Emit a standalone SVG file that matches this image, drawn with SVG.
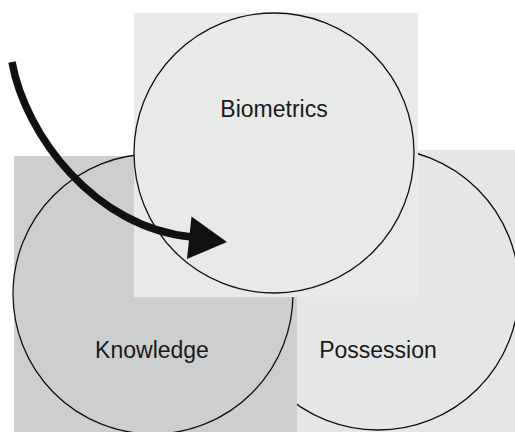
<svg xmlns="http://www.w3.org/2000/svg" width="515" height="432" viewBox="0 0 515 432">
<style>
.ring{fill:none;stroke:#111;stroke-width:1.3}
.lbl{font-family:"Liberation Sans",Arial,sans-serif;font-size:23px;fill:#1a1a1a;text-anchor:middle}
.arrow{fill:none;stroke:#111;stroke-width:7.5}
</style>
<rect width="515" height="432" fill="#ffffff"/>
<g id="possession">
<rect x="297" y="150" width="218" height="282" fill="#e5e6e6"/>
<circle class="ring" cx="378" cy="289" r="141"/>
<text class="lbl" x="378" y="358">Possession</text>
</g>
<g id="knowledge">
<rect x="14" y="156" width="283" height="276" fill="#cdced0"/>
<circle class="ring" cx="153" cy="294" r="140"/>
<text class="lbl" x="152" y="358">Knowledge</text>
</g>
<g id="biometrics">
<rect x="134" y="13" width="284" height="284" fill="#e8e9e9"/>
<circle class="ring" cx="274" cy="153" r="140"/>
<text class="lbl" x="274" y="117">Biometrics</text>
</g>
<g id="connectors">
<path class="arrow" d="M12,62 C25,135 95,228 192,237"/>
<polygon points="191.5,216.5 227,242 187,259" fill="#111"/>
</g>
</svg>
